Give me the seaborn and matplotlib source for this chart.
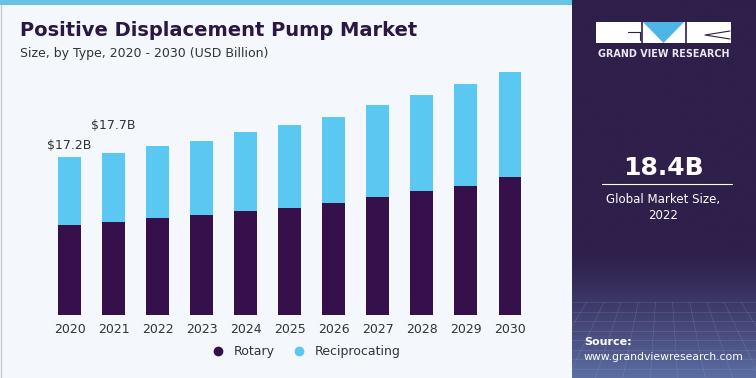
import matplotlib

matplotlib.use("Agg")
import matplotlib.pyplot as plt
import numpy as np
import pandas as pd
import seaborn as sns
from matplotlib.lines import Line2D
from matplotlib.patches import Polygon, Rectangle

YEARS = ["2020", "2021", "2022", "2023", "2024", "2025", "2026", "2027", "2028", "2029", "2030"]
ROTARY = [9.8, 10.1, 10.6, 10.9, 11.3, 11.7, 12.2, 12.9, 13.5, 14.1, 15.0]
RECIPROCATING = [7.4, 7.6, 7.8, 8.1, 8.6, 9.0, 9.4, 10.0, 10.5, 11.1, 11.5]
LABELS = {"2020": "$17.2B", "2021": "$17.7B"}

C_ROT = "#35104A"
C_REC = "#5BC8F2"
C_BG = "#F4F8FC"
C_PANEL = "#2E1F4B"
C_TITLE = "#2A1743"

W, H = 756, 378


def fx(px):
    return px / W


def fy(py):
    return 1 - py / H


df = pd.DataFrame({"year": YEARS, "rotary": ROTARY, "reciprocating": RECIPROCATING})
df["total"] = df["rotary"] + df["reciprocating"]

sns.set_style("white")
plt.rcParams["font.family"] = ["DejaVu Sans"]

fig = plt.figure(figsize=(W / 100, H / 100), dpi=100)
fig.patch.set_facecolor(C_BG)

# top accent strip + thin left border
fig.patches.append(Rectangle((0, fy(5)), fx(572), 5 / H, transform=fig.transFigure,
                             facecolor="#67C3E6", edgecolor="none", zorder=0))
fig.add_artist(Line2D([fx(1), fx(1)], [0, fy(5)], color="#C9CED6", lw=1))

# right panel with gradient at the bottom
pan = fig.add_axes([fx(572), 0, fx(184), 1])
grad = np.ones((200, 1, 3))
base = np.array([0x2E, 0x1F, 0x4B]) / 255
low = np.array([0x5C, 0x6E, 0xA2]) / 255
t = np.clip((np.linspace(0, 1, 200) - 0.66) / 0.34, 0, 1) ** 1.3
grad[:, 0, :] = base * (1 - t[:, None]) + low * t[:, None]
pan.imshow(grad, aspect="auto", extent=[0, 1, 1, 0])
for k in np.linspace(0.8, 1.0, 9):
    pan.plot([0, 1], [k, k], color="#9AAAD2", lw=0.4, alpha=0.3)
for k in np.linspace(-0.2, 1.2, 16):
    pan.plot([k, 0.5 + (k - 0.5) * 1.6], [0.8, 1.0], color="#9AAAD2", lw=0.4, alpha=0.3)
pan.set_xlim(0, 1)
pan.set_ylim(1, 0)
pan.axis("off")

# logo
fig.patches.append(Rectangle((fx(596), fy(43)), fx(135), 21 / H, transform=fig.transFigure,
                             facecolor="white", edgecolor="none", zorder=3))
fig.patches.append(Polygon([(fx(643), fy(22)), (fx(684), fy(22)), (fx(663.5), fy(43))],
                           closed=True, transform=fig.transFigure, facecolor="#4FB4E6",
                           edgecolor="none", zorder=4))
for gx in (641.5, 686):
    fig.add_artist(Line2D([fx(gx), fx(gx)], [fy(22), fy(43)], color=C_PANEL, lw=1.2, zorder=5))
fig.add_artist(Line2D([fx(628), fx(640), fx(640)], [fy(32), fy(32), fy(40)], color=C_PANEL, lw=0.8, zorder=5))
fig.add_artist(Line2D([fx(730), fx(705), fx(730)], [fy(31), fy(35), fy(39)], color=C_PANEL, lw=0.8, zorder=5))
fig.text(fx(663.5), fy(54), "GRAND VIEW RESEARCH", color="#E8E8F0", fontsize=6.9,
         fontweight="semibold", ha="center", va="center")

fig.text(fx(663), fy(168), "18.4B", color="white", fontsize=18, fontweight="bold",
         ha="center", va="center")
fig.add_artist(Line2D([fx(602), fx(732)], [fy(184), fy(184)], color="white", lw=0.8))
fig.text(fx(663), fy(199), "Global Market Size,", color="white", fontsize=8.5,
         ha="center", va="center")
fig.text(fx(663), fy(215), "2022", color="white", fontsize=8.5, ha="center", va="center")
fig.text(fx(584), fy(342), "Source:", color="white", fontsize=8, fontweight="bold",
         ha="left", va="center")
fig.text(fx(584), fy(357), "www.grandviewresearch.com", color="white", fontsize=7.8,
         ha="left", va="center")

# titles
fig.text(fx(20), fy(31), "Positive Displacement Pump Market", color=C_TITLE,
         fontsize=14, fontweight="heavy", ha="left", va="center")
fig.text(fx(20), fy(53), "Size, by Type, 2020 - 2030 (USD Billion)", color="#333333",
         fontsize=9, ha="left", va="center")

# stacked bars
ax = fig.add_axes([fx(47.5), fy(314.7), fx(532 - 47.5), (314.7 - 60) / H])
ax.set_facecolor("none")
sns.barplot(data=df, x="year", y="total", color=C_REC, width=0.52, saturation=1,
            linewidth=0, ax=ax, zorder=2)
sns.barplot(data=df, x="year", y="rotary", color=C_ROT, width=0.52, saturation=1,
            linewidth=0, ax=ax, zorder=3)
ax.set_ylim(0, 27.8)
ax.set_xlim(-0.5, len(YEARS) - 0.5)
ax.set_xlabel("")
ax.set_ylabel("")
ax.set_yticks([])
ax.tick_params(axis="x", length=0, pad=6, labelsize=9, labelcolor="#333333")
sns.despine(ax=ax, left=True, bottom=True)

for i, yr in enumerate(YEARS):
    if yr in LABELS:
        tot = df.loc[i, "total"]
        off = 1.3 if i == 0 else 2.9
        ax.text(i, tot + off, LABELS[yr], ha="center", va="center", fontsize=9,
                color="#333333")

# legend
handles = [
    Line2D([], [], marker="o", ls="", color=C_ROT, markersize=6, label="Rotary"),
    Line2D([], [], marker="o", ls="", color=C_REC, markersize=6, label="Reciprocating"),
]
fig.legend(handles=handles, loc="center", bbox_to_anchor=(fx(303), fy(352)), ncol=2,
           frameon=False, fontsize=9, handletextpad=0.2, columnspacing=1.0,
           labelcolor="#333333")

fig.savefig("out.png", dpi=100, facecolor=fig.get_facecolor())
